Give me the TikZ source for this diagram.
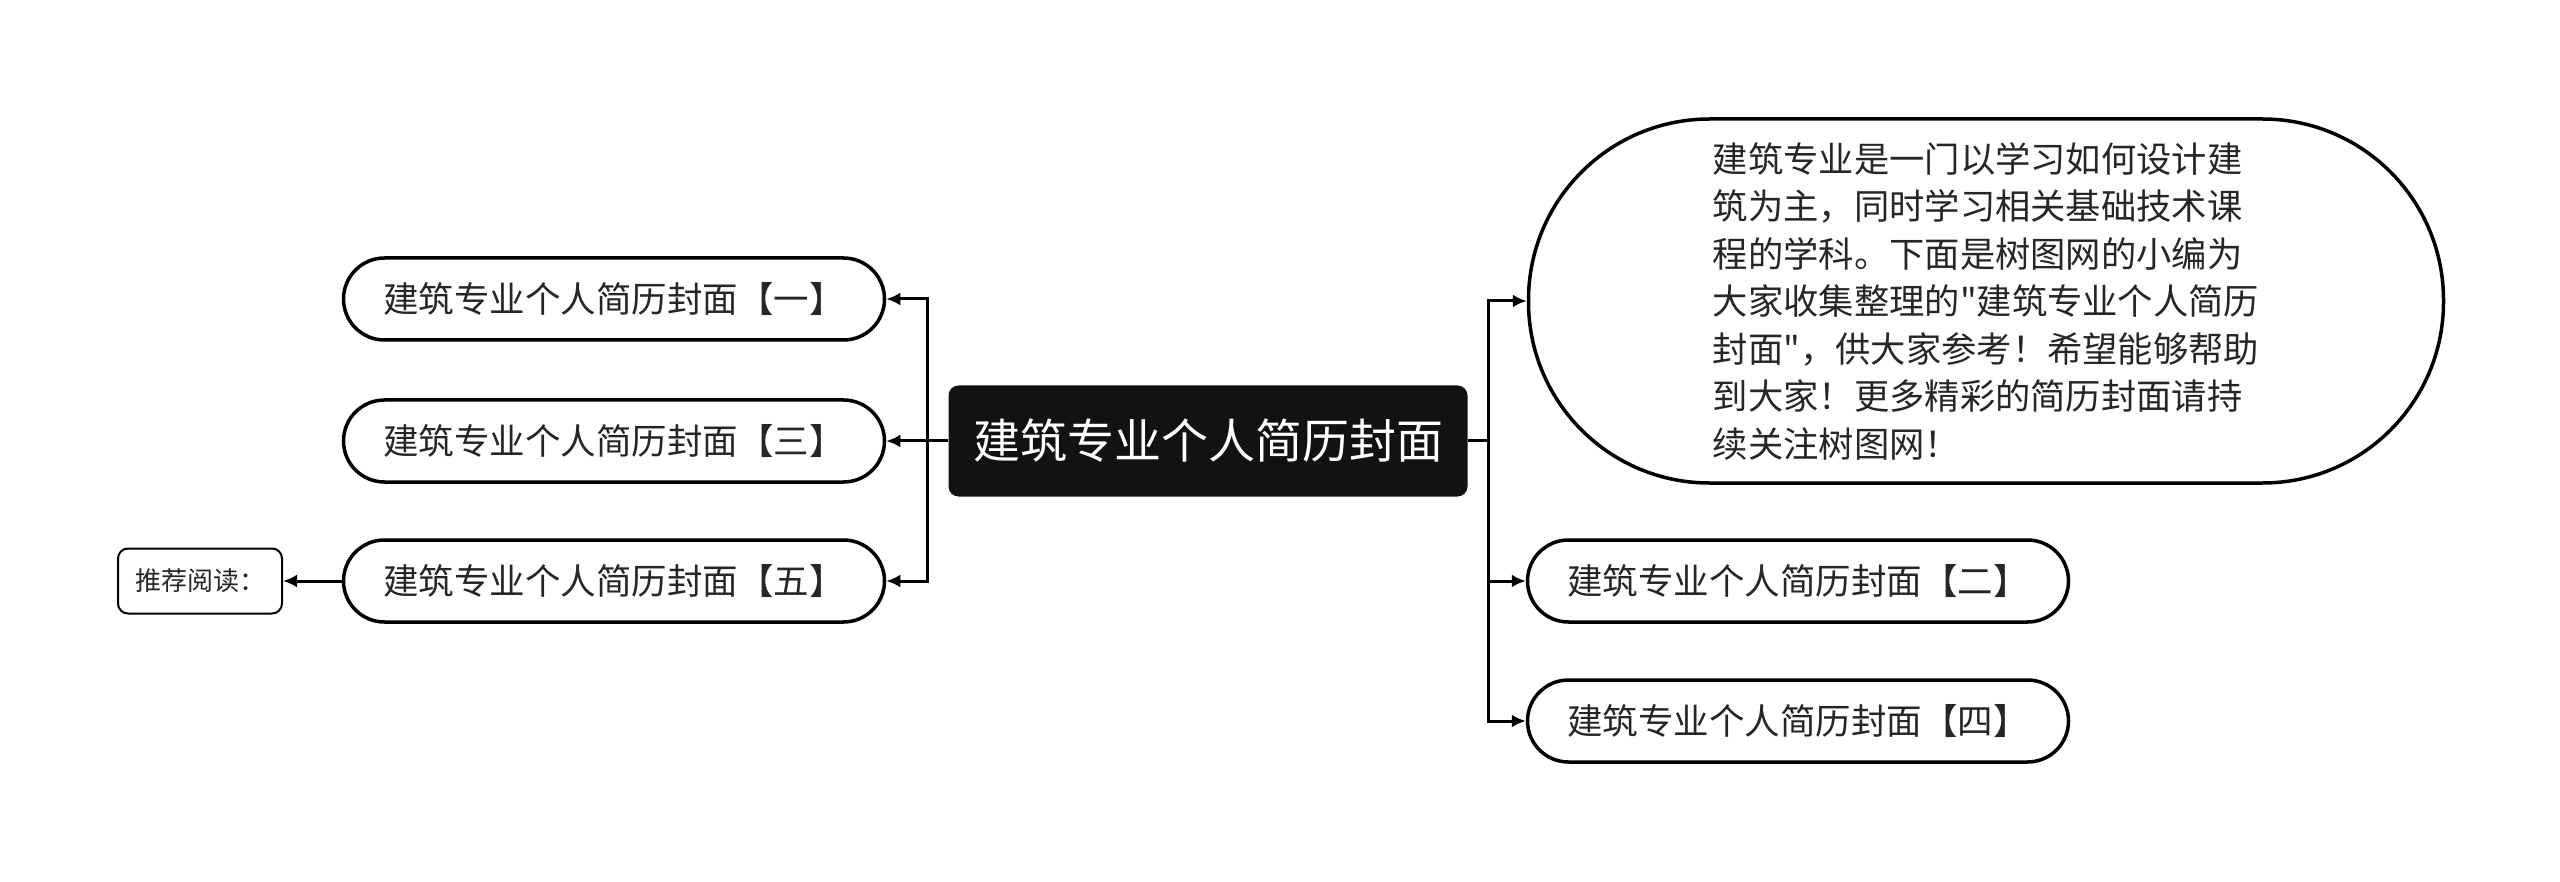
\documentclass[tikz,border=0pt]{standalone}
\usepackage{fontspec}
\setmainfont{Noto Sans CJK SC}
\newfontfamily\cjk{Noto Sans CJK SC}
\usetikzlibrary{arrows.meta}
\begin{document}
\begin{tikzpicture}[x=1pt,y=-1pt]
\useasboundingbox[fill=white] (0,0) rectangle (2560,882);
\tikzset{
  pill/.style={draw=black, line width=3.5pt, rounded corners=41pt, minimum width=541pt, minimum height=82pt, fill=white, font=\cjk\fontsize{35.5}{40}\selectfont, text=black!85, inner sep=0pt},
  conn/.style={line width=3pt, -{Latex[length=14pt,width=13pt]}},
  trunk/.style={line width=3pt},
}
\node[fill=black!93, rounded corners=10pt, minimum width=519pt, minimum height=111pt, text=white, font=\cjk\fontsize{47}{55}\selectfont, inner sep=0pt] (c) at (1208,441) {建筑专业个人简历封面};

\node[pill] (n1) at (614,299) {建筑专业个人简历封面【一】};
\node[pill] (n3) at (614,441) {建筑专业个人简历封面【三】};
\node[pill] (n5) at (614,581) {建筑专业个人简历封面【五】};
\node[pill] (n2) at (1798,581) {建筑专业个人简历封面【二】};
\node[pill] (n4) at (1798,721) {建筑专业个人简历封面【四】};

\node[draw=black, line width=3.5pt, rounded corners=181pt, minimum width=915pt, minimum height=364pt, fill=white, text=black!85, align=left, inner sep=0pt, font=\cjk\fontsize{35.3}{47.5}\selectfont] (big) at (1986,301) {建筑专业是一门以学习如何设计建\\筑为主，同时学习相关基础技术课\\程的学科。下面是树图网的小编为\\大家收集整理的"建筑专业个人简历\\封面"，供大家参考！希望能够帮助\\到大家！更多精彩的简历封面请持\\续关注树图网！};

\node[draw=black, line width=2pt, rounded corners=10pt, minimum width=164pt, minimum height=65pt, fill=white, text=black!85, inner sep=0pt, font=\cjk\fontsize{26}{30}\selectfont] (rec) at (200,581) {推荐阅读：};

\coordinate (lt) at ([xshift=-21pt]c.west);
\coordinate (rt) at ([xshift=21pt]c.east);
\draw[trunk] (c.west) -- (lt);
\draw[trunk] (c.east) -- (rt);
\draw[conn] (lt) |- (n1.east);
\draw[conn] (lt) -- (n3.east);
\draw[conn] (lt) |- (n5.east);
\draw[conn] (rt) |- (big.west);
\draw[conn] (rt) |- (n2.west);
\draw[conn] (rt) |- (n4.west);
\draw[conn] (n5.west) -- (rec.east);
\end{tikzpicture}
\end{document}
